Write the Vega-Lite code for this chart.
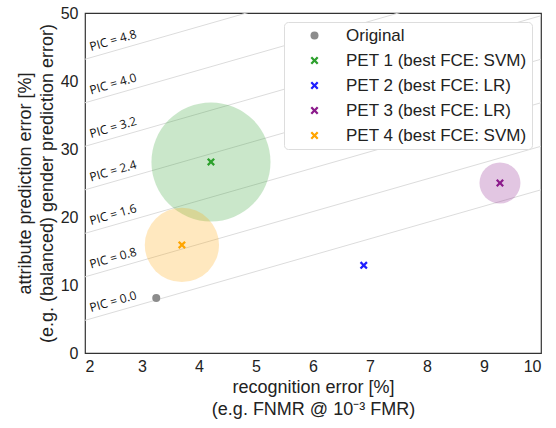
{
  "$schema": "https://vega.github.io/schema/vega-lite/v6.json",
  "width": 456,
  "height": 340,
  "autosize": {"type": "none"},
  "padding": {"left": 85, "top": 13, "right": 15, "bottom": 75},
  "config": {
    "font": "Liberation Sans",
    "view": {"stroke": "#333", "strokeWidth": 1.2},
    "axis": {"grid": false, "domain": false, "ticks": false, "labelFontSize": 16, "labelColor": "#222", "titleFontSize": 18, "titleFontWeight": "normal", "titleColor": "#222"}
  },
  "datasets": {
    "pic": [
      {"pic": "0.0", "x": 2, "y": 4.8}, {"pic": "0.0", "x": 10, "y": 24.0},
      {"pic": "0.8", "x": 2, "y": 11.2}, {"pic": "0.8", "x": 10, "y": 30.4},
      {"pic": "1.6", "x": 2, "y": 17.6}, {"pic": "1.6", "x": 10, "y": 36.8},
      {"pic": "2.4", "x": 2, "y": 24.0}, {"pic": "2.4", "x": 10, "y": 43.2},
      {"pic": "3.2", "x": 2, "y": 30.4}, {"pic": "3.2", "x": 10, "y": 49.6},
      {"pic": "4.0", "x": 2, "y": 36.8}, {"pic": "4.0", "x": 10, "y": 56.0},
      {"pic": "4.8", "x": 2, "y": 43.2}, {"pic": "4.8", "x": 10, "y": 62.4}
    ],
    "labels": [
      {"label": "PIC = 0.0", "x": 2.12, "y": 5.6},
      {"label": "PIC = 0.8", "x": 2.12, "y": 12.0},
      {"label": "PIC = 1.6", "x": 2.12, "y": 18.4},
      {"label": "PIC = 2.4", "x": 2.12, "y": 24.8},
      {"label": "PIC = 3.2", "x": 2.12, "y": 31.2},
      {"label": "PIC = 4.0", "x": 2.12, "y": 37.6},
      {"label": "PIC = 4.8", "x": 2.12, "y": 44.0}
    ],
    "pts": [
      {"method": "Original", "x": 3.25, "y": 8.1, "spread": 0},
      {"method": "PET 1 (best FCE: SVM)", "x": 4.21, "y": 28.1, "spread": 9.3},
      {"method": "PET 2 (best FCE: LR)", "x": 6.89, "y": 12.9, "spread": 0},
      {"method": "PET 3 (best FCE: LR)", "x": 9.28, "y": 25.0, "spread": 3.2},
      {"method": "PET 4 (best FCE: SVM)", "x": 3.70, "y": 15.9, "spread": 5.8}
    ]
  },
  "resolve": {"scale": {"color": "independent", "size": "independent", "shape": "independent"}, "legend": {"color": "independent", "size": "independent", "shape": "independent"}},
  "layer": [
    {
      "data": {"name": "pic"},
      "mark": {"type": "line", "clip": true, "color": "#dcdcdc", "strokeWidth": 1},
      "encoding": {
        "x": {"field": "x", "type": "quantitative", "scale": {"domain": [2, 10], "nice": false, "zero": false}, "axis": {"values": [2,3,4,5,6,7,8,9,10], "format": "d", "labelPadding": 5, "title": ["recognition error [%]", "(e.g. FNMR @ 10⁻³ FMR)"], "titleLineHeight": 22, "titlePadding": 4}},
        "y": {"field": "y", "type": "quantitative", "scale": {"domain": [0, 50], "nice": false}, "axis": {"values": [0,10,20,30,40,50], "format": "d", "labelPadding": 7, "title": ["attribute prediction error [%]", "(e.g. (balanced) gender prediction error)"], "titleLineHeight": 22, "titlePadding": 4}},
        "detail": {"field": "pic"}
      }
    },
    {
      "data": {"name": "labels"},
      "mark": {"type": "text", "font": "Open Sans", "fontSize": 12, "angle": -16, "align": "left", "baseline": "bottom", "color": "#111"},
      "encoding": {
        "x": {"field": "x", "type": "quantitative"},
        "y": {"field": "y", "type": "quantitative"},
        "text": {"field": "label"}
      }
    },
    {
      "data": {"name": "pts"},
      "transform": [{"filter": "datum.spread > 0"}],
      "mark": {"type": "circle", "opacity": 0.25, "strokeWidth": 0},
      "encoding": {
        "x": {"field": "x", "type": "quantitative"},
        "y": {"field": "y", "type": "quantitative"},
        "size": {"field": "spread", "type": "quantitative", "scale": {"type": "pow", "exponent": 2, "domain": [0, 10], "range": [0, 16384]}, "legend": null},
        "color": {"field": "method", "type": "nominal", "legend": null,
          "scale": {"domain": ["Original", "PET 1 (best FCE: SVM)", "PET 2 (best FCE: LR)", "PET 3 (best FCE: LR)", "PET 4 (best FCE: SVM)"], "range": ["#8c8c8c", "#2ca02c", "#1f1fff", "#8b1a8b", "#ffa500"]}}
      }
    },
    {
      "data": {"name": "pts"},
      "mark": {"type": "point", "filled": true, "opacity": 1, "size": 64},
      "encoding": {
        "x": {"field": "x", "type": "quantitative"},
        "y": {"field": "y", "type": "quantitative"},
        "color": {"field": "method", "type": "nominal",
          "legend": {"title": null, "orient": "top-right", "offset": 9, "labelFontSize": 17, "labelLimit": 400, "labelColor": "#222", "strokeColor": "#ddd", "fillColor": "white", "cornerRadius": 4, "padding": 5, "rowPadding": 7, "symbolSize": 64, "labelOffset": 23, "symbolOffset": 17},
          "scale": {"domain": ["Original", "PET 1 (best FCE: SVM)", "PET 2 (best FCE: LR)", "PET 3 (best FCE: LR)", "PET 4 (best FCE: SVM)"], "range": ["#8c8c8c", "#2ca02c", "#1f1fff", "#8b1a8b", "#ffa500"]}},
        "shape": {"field": "method", "type": "nominal",
          "legend": {"title": null, "orient": "top-right", "offset": 9, "labelFontSize": 17, "labelLimit": 400, "labelColor": "#222", "strokeColor": "#ddd", "fillColor": "white", "cornerRadius": 4, "padding": 5, "rowPadding": 7, "symbolSize": 64, "labelOffset": 23, "symbolOffset": 17},
          "scale": {"domain": ["Original", "PET 1 (best FCE: SVM)", "PET 2 (best FCE: LR)", "PET 3 (best FCE: LR)", "PET 4 (best FCE: SVM)"], "range": ["circle", "M0,-0.4L0.6,-1L1,-0.6L0.4,0L1,0.6L0.6,1L0,0.4L-0.6,1L-1,0.6L-0.4,0L-1,-0.6L-0.6,-1Z", "M0,-0.4L0.6,-1L1,-0.6L0.4,0L1,0.6L0.6,1L0,0.4L-0.6,1L-1,0.6L-0.4,0L-1,-0.6L-0.6,-1Z", "M0,-0.4L0.6,-1L1,-0.6L0.4,0L1,0.6L0.6,1L0,0.4L-0.6,1L-1,0.6L-0.4,0L-1,-0.6L-0.6,-1Z", "M0,-0.4L0.6,-1L1,-0.6L0.4,0L1,0.6L0.6,1L0,0.4L-0.6,1L-1,0.6L-0.4,0L-1,-0.6L-0.6,-1Z"]}}
      }
    }
  ]
}
